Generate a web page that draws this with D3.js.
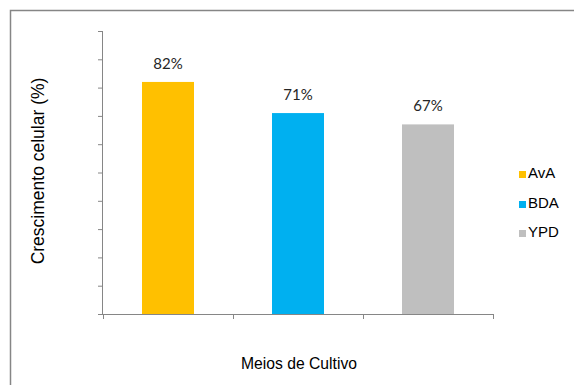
<!DOCTYPE html>
<html>
<head>
<meta charset="utf-8">
<script src="https://cdn.jsdelivr.net/npm/d3@7"></script>
<style>
html,body{margin:0;padding:0;background:#fff;}
svg{display:block;}
</style>
</head>
<body>
<svg id="chart" width="574" height="385"></svg>
<script>
const categories = ["AvA", "BDA", "YPD"];
const values = [0.82, 0.71, 0.67];
const valueLabels = ["82%", "71%", "67%"];
const colors = ["#FFC000", "#00B0F0", "#BFBFBF"];
const yTicks = [0, 0.1, 0.2, 0.3, 0.4, 0.5, 0.6, 0.7, 0.8, 0.9, 1.0];
const xTitle = "Meios de Cultivo";
const yTitle = "Crescimento celular (%)";

const svg = d3.select("#chart");
const axisColor = "#868686";

// outer border
svg.append("rect").attr("x", 10.5).attr("y", 10.5).attr("width", 570).attr("height", 380)
  .attr("fill", "none").attr("stroke", axisColor).attr("stroke-width", 1.5);

const plot = {left: 103, right: 493, top: 31, bottom: 314};

const x = d3.scaleBand().domain(categories).range([plot.left, plot.right]).padding(0);
const y = d3.scaleLinear().domain([0, 1]).range([plot.bottom, plot.top]);

// bars
const barW = x.bandwidth() * 0.4;
svg.selectAll("rect.bar").data(categories).enter().append("rect")
  .attr("class", "bar")
  .attr("x", d => x(d) + (x.bandwidth() - barW) / 2)
  .attr("width", barW)
  .attr("y", (d, i) => y(values[i]))
  .attr("height", (d, i) => y(0) - y(values[i]))
  .attr("fill", (d, i) => colors[i]);

// y axis
const yAxis = d3.axisLeft(y).tickValues(yTicks).tickSize(5).tickFormat("");
const gy = svg.append("g").attr("transform", `translate(${plot.left},0)`).call(yAxis);
gy.select(".domain").attr("stroke", axisColor).attr("d", `M-0.5,${plot.top}V${plot.bottom}`);
gy.selectAll(".tick line").attr("stroke", axisColor);

// x axis with ticks at band boundaries
const gx = svg.append("g").attr("transform", `translate(0,${plot.bottom})`);
gx.append("path").attr("d", `M${plot.left},0.5H${plot.right}`).attr("stroke", axisColor).attr("fill", "none");
const bounds = categories.map(c => x(c)).concat([x(categories[categories.length-1]) + x.bandwidth()]);
gx.selectAll("line.t").data(bounds).enter().append("line")
  .attr("x1", d => Math.round(d) + 0.5).attr("x2", d => Math.round(d) + 0.5)
  .attr("y1", 0).attr("y2", 5).attr("stroke", axisColor);

// value labels
svg.selectAll("text.val").data(categories).enter().append("text")
  .attr("class", "val")
  .attr("x", d => x(d) + x.bandwidth() / 2)
  .attr("y", (d, i) => y(values[i]) - 13)
  .attr("text-anchor", "middle")
  .attr("font-family", "Lato, 'Open Sans', sans-serif")
  .attr("font-size", 15)
  .attr("fill", "#262626")
  .text((d, i) => valueLabels[i]);

// axis titles
svg.append("text").attr("x", 299).attr("y", 369).attr("text-anchor", "middle")
  .attr("font-family", "'Liberation Sans', Arial, sans-serif").attr("font-size", 15.7)
  .attr("fill", "#000").text(xTitle);
svg.append("text").attr("transform", "translate(44,171) rotate(-90)").attr("text-anchor", "middle")
  .attr("font-family", "'Liberation Sans', Arial, sans-serif").attr("font-size", 17.5)
  .attr("fill", "#000").text(yTitle);

// legend
const leg = svg.append("g");
const legY = [178, 208, 237];
categories.forEach((c, i) => {
  leg.append("rect").attr("x", 519).attr("y", legY[i] - 7).attr("width", 7).attr("height", 7).attr("fill", colors[i]);
  leg.append("text").attr("x", 528).attr("y", legY[i])
    .attr("font-family", "'Liberation Sans', Arial, sans-serif").attr("font-size", 15)
    .attr("fill", "#000").text(c);
});
</script>
</body>
</html>
